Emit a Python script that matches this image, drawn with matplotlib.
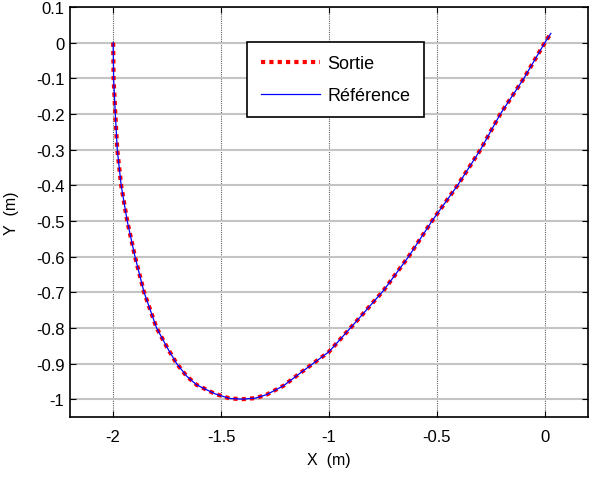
import matplotlib.pyplot as plt
import numpy as np

plt.rcParams['font.family'] = ['Liberation Sans', 'DejaVu Sans']

# trajectory
x = np.array([-2.0, -1.998, -1.99, -1.981, -1.963, -1.935, -1.899, -1.857,
              -1.799, -1.75, -1.706, -1.66, -1.613, -1.528, -1.46, -1.40,
              -1.34, -1.288, -1.21, -1.134, -1.0, -0.878, -0.747, -0.631,
              -0.5225, -0.404, -0.298, -0.206, -0.097, 0.0, 0.028])
y = np.array([0.0, -0.1, -0.2, -0.3, -0.4, -0.5, -0.6, -0.7,
              -0.8, -0.855, -0.9, -0.935, -0.96, -0.985, -0.998, -1.0,
              -0.997, -0.987, -0.962, -0.927, -0.867, -0.785, -0.695, -0.6,
              -0.5, -0.4, -0.3, -0.2, -0.1, 0.0, 0.026])

xticks = [-2, -1.5, -1, -0.5, 0]
xticklabels = ['-2', '-1.5', '-1', '-0.5', '0']
yticks = np.round(np.arange(-1.0, 0.11, 0.1), 1)
yticklabels = ['-1', '-0.9', '-0.8', '-0.7', '-0.6', '-0.5', '-0.4',
               '-0.3', '-0.2', '-0.1', '0', '0.1']

fig = plt.figure(figsize=(5.89, 4.81), dpi=100)
ax = fig.add_axes([70/589, 1 - 418/481, 518/589, 410/481])

ax.plot(x, y, color='red', linestyle=(0, (1, 1)), linewidth=3, label='Sortie')
ax.plot(x, y, color='blue', linewidth=0.9, label='Référence')

ax.set_xlim(-2.2, 0.2)
ax.set_ylim(-1.05, 0.1)
ax.set_xticks(xticks)
ax.set_xticklabels(xticklabels)
ax.set_yticks(yticks)
ax.set_yticklabels(yticklabels)

ax.yaxis.grid(True, color='#c4c4c4', linestyle='-', linewidth=1.5)
ax.xaxis.grid(True, color='#606060', linestyle=(0, (1, 1)), linewidth=0.8)
ax.set_axisbelow(True)

ax.tick_params(axis='both', direction='in', length=4, width=0.8,
               top=True, right=True, labelsize=12)
ax.tick_params(axis='x', pad=9)
ax.tick_params(axis='y', pad=4)
for s in ax.spines.values():
    s.set_linewidth(1.2)

ax.set_xlabel('X  (m)', fontsize=11.5)
ax.set_ylabel('Y  (m)', fontsize=11.5)
ax.xaxis.set_label_coords(0.5, -0.085)
ax.yaxis.set_label_coords(-0.098, 0.5)

leg = ax.legend(loc='upper left', bbox_to_anchor=(0.342, 0.915),
                borderaxespad=0, fontsize=13, handlelength=3.3,
                fancybox=False, framealpha=1, edgecolor='black',
                borderpad=0.75, labelspacing=0.8, handletextpad=0.4)
leg.get_frame().set_linewidth(1.2)

fig.savefig('out.png', dpi=100)
